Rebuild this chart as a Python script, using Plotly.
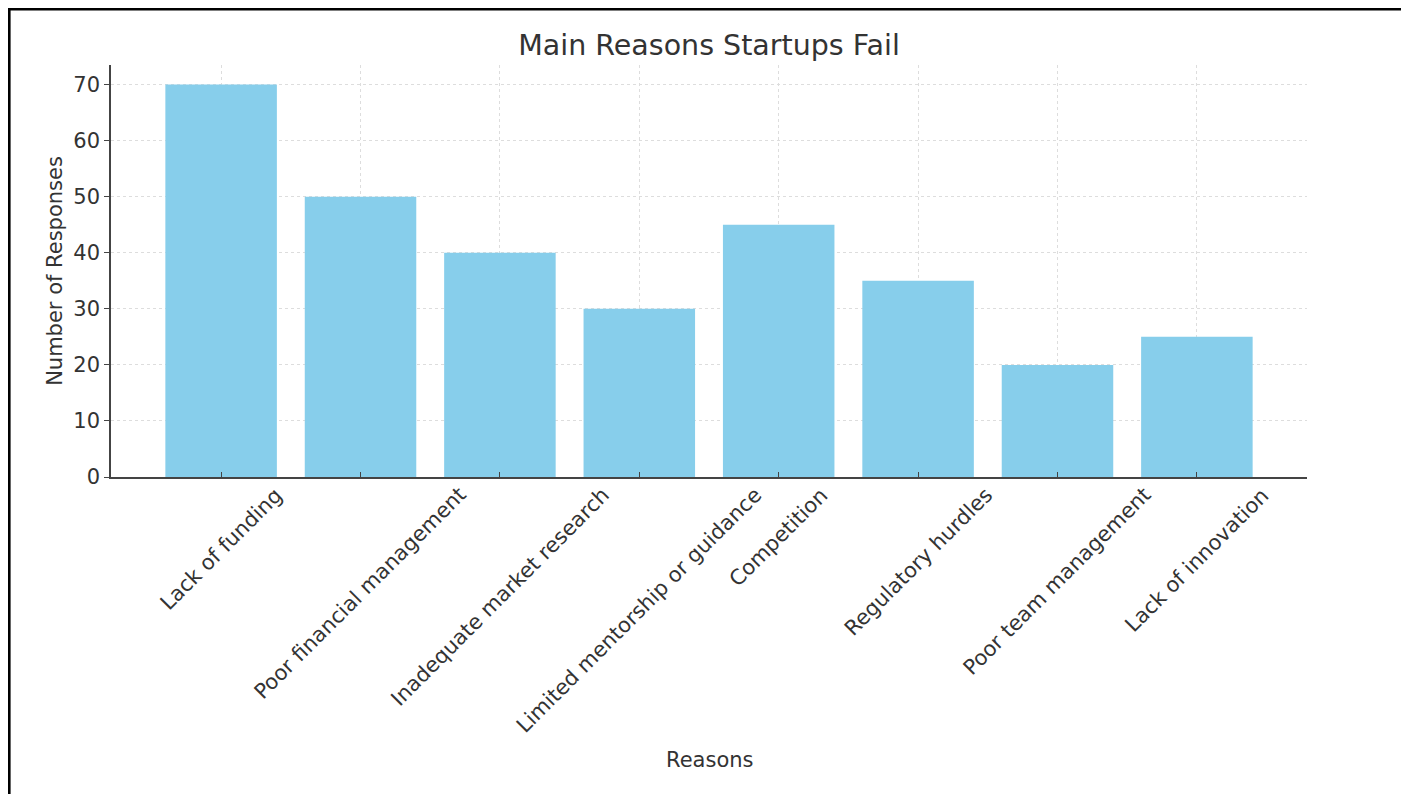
import plotly.graph_objects as go

reasons = [
    "Lack of funding",
    "Poor financial management",
    "Inadequate market research",
    "Limited mentorship or guidance",
    "Competition",
    "Regulatory hurdles",
    "Poor team management",
    "Lack of innovation",
]
responses = [70, 50, 40, 30, 45, 35, 20, 25]
y_ticks = [0, 10, 20, 30, 40, 50, 60, 70]

# page body has an 8px default margin; figure is sized to fill the rest
OFF = 8
W, H = 1409 - OFF, 794 - OFF
L, R, T, B = 103, 102, 57, 317
pw, ph = W - L - R, H - T - B

def px_x(p):
    return (p - L) / pw

def px_y(p):
    return (H - B - p) / ph

FONT = "DejaVu Sans"
TXT = "#333333"
AX = "#444444"

fig = go.Figure(
    go.Bar(
        x=reasons,
        y=responses,
        marker=dict(color="#87CEEB", line=dict(width=0)),
        width=0.8,
    )
)

annotations = [
    dict(
        x=r,
        y=0,
        xref="x",
        yref="paper",
        text=r,
        textangle=-45,
        showarrow=False,
        xanchor="center",
        yanchor="top",
        yshift=-3,
        font=dict(family=FONT, size=21, color=TXT),
    )
    for r in reasons
]
annotations.append(
    dict(
        x=0.5,
        y=px_y(752),
        xref="paper",
        yref="paper",
        text="Reasons",
        showarrow=False,
        xanchor="center",
        yanchor="middle",
        font=dict(family=FONT, size=21, color=TXT),
    )
)

fig.update_layout(
    width=W,
    height=H,
    margin=dict(l=L, r=R, t=T, b=B),
    paper_bgcolor="white",
    plot_bgcolor="white",
    font=dict(family=FONT, color=TXT, size=21),
    title=dict(
        text="Main Reasons Startups Fail",
        x=(701) / W,
        xanchor="center",
        y=1 - 37 / H,
        yanchor="middle",
        font=dict(family=FONT, size=28.5, color=TXT),
    ),
    showlegend=False,
    annotations=annotations,
    shapes=[
        dict(
            type="rect",
            xref="paper",
            yref="paper",
            x0=px_x(1.3),
            x1=px_x(1396),
            y0=px_y(830),
            y1=px_y(1.3),
            line=dict(color="black", width=2.6),
            fillcolor="rgba(0,0,0,0)",
            layer="above",
        )
    ],
)

fig.update_xaxes(
    range=[-0.79, 7.79],
    showticklabels=False,
    showline=True,
    linecolor=AX,
    linewidth=1.5,
    ticks="inside",
    ticklen=5,
    tickcolor=AX,
    showgrid=True,
    gridcolor="#dddddd",
    griddash="dot",
    gridwidth=1,
    zeroline=False,
)

fig.update_yaxes(
    range=[0, 73.5],
    tickvals=y_ticks,
    ticktext=[str(v) for v in y_ticks],
    tickfont=dict(family=FONT, size=21, color=TXT),
    showline=True,
    linecolor=AX,
    linewidth=1.5,
    ticks="outside",
    ticklen=5,
    tickcolor=AX,
    showgrid=True,
    gridcolor="#dddddd",
    griddash="dot",
    gridwidth=1,
    title=dict(text="Number of Responses", font=dict(family=FONT, size=21, color=TXT), standoff=5),
    zeroline=False,
)

fig.write_html("out.html")
